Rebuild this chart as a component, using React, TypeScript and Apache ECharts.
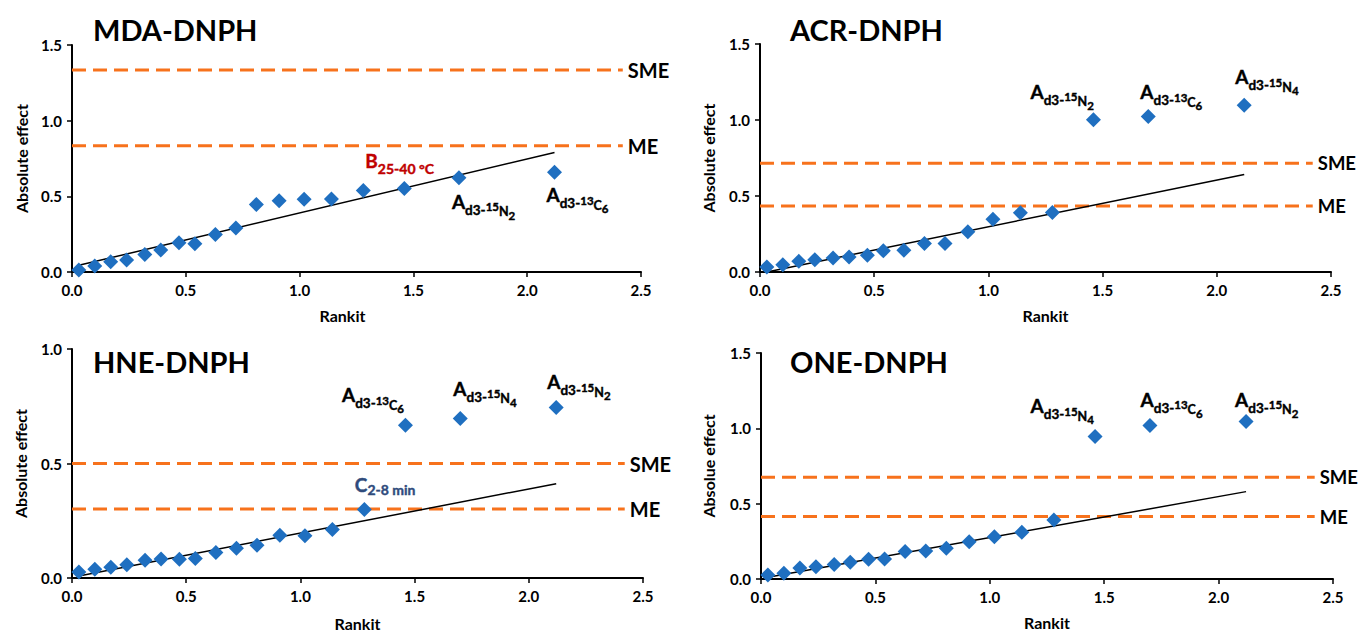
import React, { useEffect, useRef } from 'react';
import * as echarts from 'echarts';

// ---------- data ----------
const rankit = [0.03, 0.10, 0.17, 0.24, 0.32, 0.39, 0.47, 0.54, 0.63, 0.72, 0.81, 0.91, 1.02, 1.14, 1.28, 1.46, 1.70, 2.12];

const mdaEffect = [0.013, 0.04, 0.068, 0.079, 0.116, 0.145, 0.193, 0.187, 0.248, 0.29, 0.446, 0.47, 0.481, 0.483, 0.538, 0.551, 0.622, 0.659];
const acrEffect = [0.033, 0.048, 0.07, 0.081, 0.092, 0.099, 0.11, 0.139, 0.143, 0.187, 0.187, 0.264, 0.347, 0.389, 0.391, 1.001, 1.023, 1.097];
const hneEffect = [0.026, 0.038, 0.047, 0.058, 0.077, 0.083, 0.082, 0.085, 0.111, 0.13, 0.143, 0.187, 0.185, 0.212, 0.299, 0.667, 0.696, 0.745];
const oneEffect = [0.027, 0.038, 0.073, 0.082, 0.097, 0.111, 0.131, 0.133, 0.182, 0.186, 0.204, 0.248, 0.281, 0.31, 0.392, 0.946, 1.019, 1.046];

const mdaTrend = [[0.03, 0.044], [2.12, 0.79]];
const acrTrend = [[0.03, 0.0], [2.12, 0.642]];
const hneTrend = [[0.03, 0.009], [2.12, 0.412]];
const oneTrend = [[0.03, 0.011], [2.12, 0.58]];

const mdaLimits = { ME: 0.835, SME: 1.335 };
const acrLimits = { ME: 0.435, SME: 0.715 };
const hneLimits = { ME: 0.301, SME: 0.5 };
const oneLimits = { ME: 0.414, SME: 0.676 };
const limitSpan = [0, 2.42];

const xTicks = [0, 0.5, 1.0, 1.5, 2.0, 2.5];

const A15N2 = '{a|A}{d|d3-}{p|15}{n|N}{s|2}';
const A13C6 = '{a|A}{d|d3-}{p|13}{n|C}{s|6}';
const A15N4 = '{a|A}{d|d3-}{p|15}{n|N}{s|4}';
const B2540 = '{b|B}{bs|25-40 °C}';
const C28 = '{c|C}{cs|2-8 min}';

const mdaNotes = [{ i: 14, text: B2540 }, { i: 16, text: A15N2 }, { i: 17, text: A13C6 }];
const acrNotes = [{ i: 15, text: A15N2 }, { i: 16, text: A13C6 }, { i: 17, text: A15N4 }];
const hneNotes = [{ i: 14, text: C28 }, { i: 15, text: A13C6 }, { i: 16, text: A15N4 }, { i: 17, text: A15N2 }];
const oneNotes = [{ i: 15, text: A15N4 }, { i: 16, text: A13C6 }, { i: 17, text: A15N2 }];

// ---------- styles / layout ----------
const FONT = 'Lato, "Open Sans", sans-serif';
const BLUE = '#1F6FC0';
const ORANGE = '#F7721C';

const mdaOffsets = [[2, -40], [-7, 14], [-8, 13]];
const acrOffsets = [[-63, -38], [-8, -34.5], [-9, -38]];
const hneOffsets = [[-9.5, -35], [-63.5, -40], [-7, -40], [-9, -35]];
const oneOffsets = [[-64.5, -40.4], [-9.4, -35.7], [-11, -31.7]];

const tok = (fontSize: number, pad: number, color = '#000') => ({
  fontSize, lineHeight: fontSize, fontWeight: 'bold', fontFamily: FONT, color,
  verticalAlign: 'top', padding: [pad, 0, 0, 0], textBorderColor: color, textBorderWidth: 0.4,
});

const rich = {
  a: tok(19, 0),
  d: tok(13.5, 11),
  p: tok(11.5, 9),
  n: tok(12.5, 13.6),
  s: tok(11.5, 17.6),
  b: tok(19, 0, '#C00000'),
  bs: tok(14, 10.8, '#C00000'),
  c: tok(19, 0, '#2F4B7C'),
  cs: tok(14, 8, '#2F4B7C'),
};

const panels = [
  { title: 'MDA-DNPH', effect: mdaEffect, trend: mdaTrend, limits: mdaLimits, notes: mdaNotes, offsets: mdaOffsets, yMax: 1.5, yName: 'Absolute effect',
    grid: { left: 72, top: 45, width: 569, height: 227 }, titleAt: [93, 15], xGap: 35, yGap: 43, xNamePad: [0, 28, 0, 0], limFont: 20 },
  { title: 'ACR-DNPH', effect: acrEffect, trend: acrTrend, limits: acrLimits, notes: acrNotes, offsets: acrOffsets, yMax: 1.5, yName: 'Absolute effect',
    grid: { left: 760, top: 44, width: 571, height: 228 }, titleAt: [790, 15], xGap: 35, yGap: 44, xNamePad: [0, 0, 0, 0], limFont: 18.5 },
  { title: 'HNE-DNPH', effect: hneEffect, trend: hneTrend, limits: hneLimits, notes: hneNotes, offsets: hneOffsets, yMax: 1.0, yName: 'Absolute effect',
    grid: { left: 72, top: 349, width: 571, height: 229 }, titleAt: [93, 347], xGap: 37, yGap: 44, xNamePad: [0, 0, 0, 0], limFont: 20 },
  { title: 'ONE-DNPH', effect: oneEffect, trend: oneTrend, limits: oneLimits, notes: oneNotes, offsets: oneOffsets, yMax: 1.5, yName: 'Absolue effect',
    grid: { left: 761, top: 353, width: 572, height: 226 }, titleAt: [790, 347], xGap: 35, yGap: 45, xNamePad: [0, 0, 0, 0], limFont: 18.5 },
];

function buildOption() {
  const grid: any[] = [];
  const xAxis: any[] = [];
  const yAxis: any[] = [];
  const series: any[] = [];
  const title: any[] = [];
  const tickLabel = { fontFamily: FONT, fontWeight: 'bold', fontSize: 15, color: '#000' };
  const nameStyle = { fontFamily: FONT, fontWeight: 'bold', fontSize: 16, color: '#000' };

  panels.forEach((p, k) => {
    grid.push({ ...p.grid, containLabel: false });
    title.push({
      text: p.title, left: p.titleAt[0], top: p.titleAt[1], padding: 0,
      textStyle: { fontFamily: FONT, fontWeight: 'bold', fontSize: 29, color: '#000' },
    });
    xAxis.push({
      gridIndex: k, type: 'value', min: 0, max: 2.5, interval: 0.5,
      name: 'Rankit', nameLocation: 'middle', nameGap: p.xGap,
      nameTextStyle: { ...nameStyle, padding: p.xNamePad },
      axisLine: { show: true, onZero: false, lineStyle: { color: '#000', width: 2 } },
      axisTick: { show: true, length: 5, lineStyle: { color: '#000', width: 1.5 } },
      axisLabel: { ...tickLabel, margin: 10, formatter: (v: number) => (xTicks.includes(v) ? v.toFixed(1) : '') },
      splitLine: { show: false },
    });
    yAxis.push({
      gridIndex: k, type: 'value', min: 0, max: p.yMax, interval: 0.5,
      name: p.yName, nameLocation: 'middle', nameGap: p.yGap, nameRotate: 90,
      nameTextStyle: nameStyle,
      axisLine: { show: true, onZero: false, lineStyle: { color: '#000', width: 2 } },
      axisTick: { show: true, length: 5, lineStyle: { color: '#000', width: 1.5 } },
      axisLabel: { ...tickLabel, margin: 10, formatter: (v: number) => v.toFixed(1) },
      splitLine: { show: false },
    });

    (['SME', 'ME'] as const).forEach((key) => {
      const val = (p.limits as any)[key];
      series.push({
        type: 'line', xAxisIndex: k, yAxisIndex: k, symbol: 'none', silent: true, z: 2,
        data: limitSpan.map((x) => [x, val]),
        lineStyle: { color: ORANGE, width: 3, type: [14, 7] },
        endLabel: { show: true, formatter: key, distance: 5, fontFamily: FONT, fontWeight: 'bold', fontSize: p.limFont, color: '#000' },
      });
    });

    series.push({
      type: 'line', xAxisIndex: k, yAxisIndex: k, symbol: 'none', silent: true, z: 3,
      data: p.trend, lineStyle: { color: '#000', width: 1.5 },
    });

    const data = rankit.map((x, i) => {
      const ni = p.notes.findIndex((n) => n.i === i);
      const item: any = { value: [x, p.effect[i]] };
      if (ni >= 0) {
        item.label = {
          show: true, formatter: p.notes[ni].text, position: ['50%', '50%'],
          align: 'left', verticalAlign: 'top', offset: p.offsets[ni], rich,
          color: '#000', fontWeight: 'bold', fontFamily: FONT, opacity: 1,
        };
      }
      return item;
    });
    series.push({
      type: 'scatter', xAxisIndex: k, yAxisIndex: k, symbol: 'diamond', symbolSize: 15, z: 5,
      itemStyle: { color: BLUE, opacity: 1 }, data,
    });
  });

  return { animation: false, title, grid, xAxis, yAxis, series };
}

export default function App() {
  const ref = useRef<HTMLDivElement>(null);
  useEffect(() => {
    if (!ref.current) return;
    const chart = echarts.init(ref.current, undefined, { renderer: 'svg' });
    chart.setOption(buildOption() as any);
    return () => chart.dispose();
  }, []);
  return <div ref={ref} style={{ position: 'absolute', left: 0, top: 0, width: 1359, height: 634, background: '#fff' }} />;
}
